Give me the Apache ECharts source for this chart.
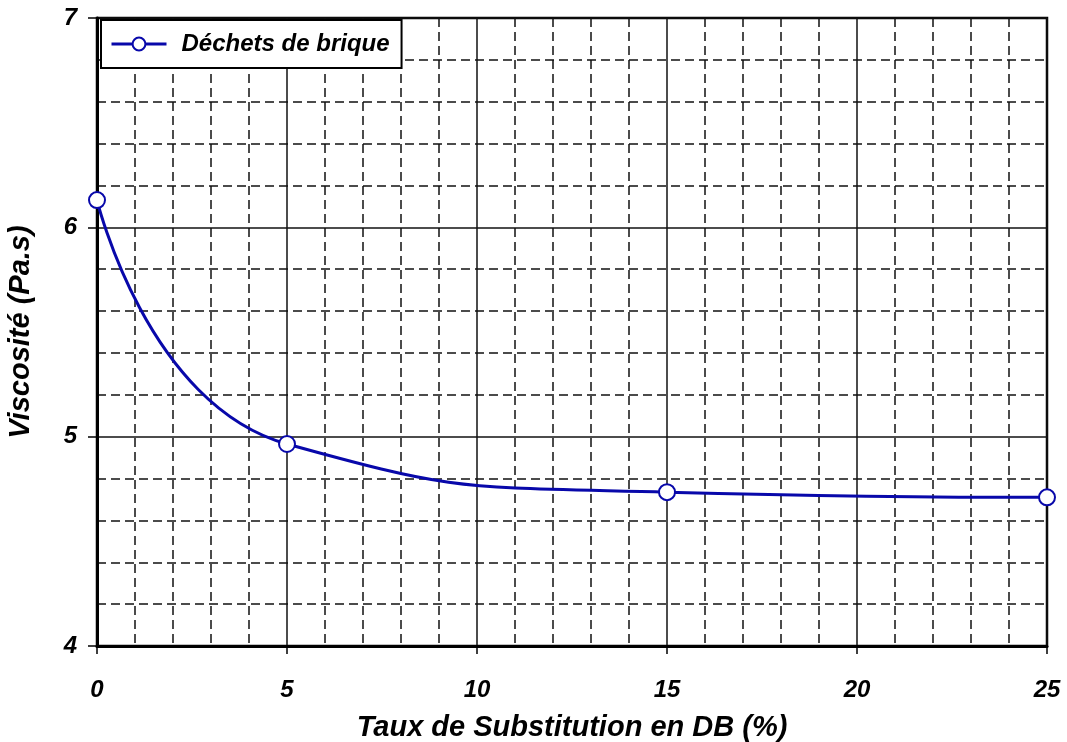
<!DOCTYPE html>
<html>
<head>
<meta charset="utf-8">
<script src="https://cdn.jsdelivr.net/npm/echarts@6/dist/echarts.min.js"></script>
<style>
  html, body { margin: 0; padding: 0; background: #fff; }
  #chart { width: 1067px; height: 742px; }
</style>
</head>
<body>
<div id="chart"></div>
<script>
// Substitution rate of brick waste (%) and measured viscosity (Pa.s)
const substitution = [0, 5, 15, 25];
const viscosity = [6.13, 4.965, 4.735, 4.71];
const seriesName = 'Déchets de brique';
const xAxisTitle = 'Taux de Substitution en DB (%)';
const yAxisTitle = 'Viscosité (Pa.s)';

const FONT = '"Liberation Sans", Arial, sans-serif';
const BLUE = '#0808aa';
const boldItalic = (size) => ({
  fontFamily: FONT, fontSize: size, fontWeight: 'bold', fontStyle: 'italic', color: '#000'
});

const chart = echarts.init(document.getElementById('chart'));
chart.setOption({
  animation: false,
  backgroundColor: '#fff',
  grid: {
    left: 97, right: 20, top: 18, bottom: 96,
    outerBoundsMode: 'none',
    containLabel: false,
    show: true, borderColor: '#000', borderWidth: 2.5, backgroundColor: 'transparent'
  },
  legend: {
    left: 101, top: 20,
    padding: [12, 12, 12, 9],
    backgroundColor: '#fff',
    borderColor: '#000', borderWidth: 2,
    itemWidth: 55, itemHeight: 16, itemGap: 10,
    itemStyle: { color: '#fff', borderColor: BLUE, borderWidth: 2 },
    lineStyle: { color: BLUE, width: 3 },
    textStyle: Object.assign(boldItalic(24), { padding: [0, 0, 0, 10] }),
    data: [{ name: seriesName }]
  },
  xAxis: {
    type: 'value',
    min: 0, max: 25, interval: 5,
    name: xAxisTitle,
    nameLocation: 'middle',
    nameGap: 67,
    nameTextStyle: boldItalic(29),
    axisLine: { show: true, onZero: false, lineStyle: { color: '#000', width: 3 } },
    axisTick: { show: true, length: 8, lineStyle: { color: '#000', width: 1.5 } },
    axisLabel: Object.assign({ margin: 32 }, boldItalic(24)),
    splitLine: { show: true, lineStyle: { color: '#111', width: 1.5, type: 'solid' } },
    minorTick: { show: false, splitNumber: 5 },
    minorSplitLine: { show: true, lineStyle: { color: '#111', width: 1.5, type: [9, 5] } }
  },
  yAxis: {
    type: 'value',
    min: 4, max: 7, interval: 1,
    name: yAxisTitle,
    nameLocation: 'middle',
    nameGap: 62,
    nameTextStyle: boldItalic(29),
    axisLine: { show: true, onZero: false, lineStyle: { color: '#000', width: 3 } },
    axisTick: { show: true, length: 9, lineStyle: { color: '#000', width: 1.5 } },
    axisLabel: Object.assign({ margin: 20 }, boldItalic(24)),
    splitLine: { show: true, lineStyle: { color: '#111', width: 1.5, type: 'solid' } },
    minorTick: { show: false, splitNumber: 5 },
    minorSplitLine: { show: true, lineStyle: { color: '#111', width: 1.5, type: [9, 5] } }
  },
  series: [{
    name: seriesName,
    type: 'line',
    data: substitution.map((x, i) => [x, viscosity[i]]),
    smooth: 0.55,
    symbol: 'circle',
    symbolSize: 16,
    showAllSymbol: true,
    clip: false,
    z: 5,
    lineStyle: { color: BLUE, width: 3 },
    itemStyle: { color: '#fff', borderColor: BLUE, borderWidth: 2 }
  }]
});
</script>
</body>
</html>
